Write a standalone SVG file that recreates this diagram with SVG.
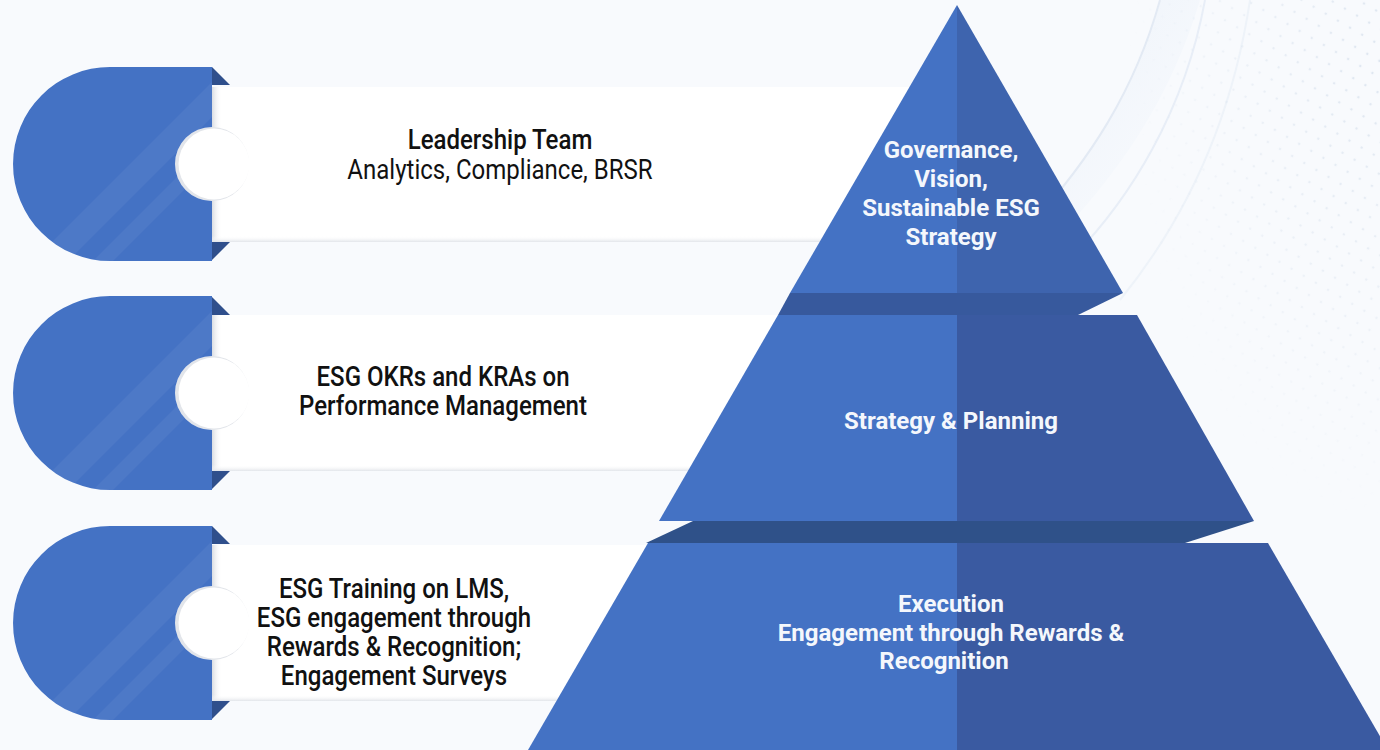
<svg xmlns="http://www.w3.org/2000/svg" width="1380" height="750" viewBox="0 0 1380 750">
  <defs>
    <style>
      .lbl { font-family: Roboto, "Liberation Sans", Arial, sans-serif; font-size: 27px; fill: #111111; text-anchor: middle; }
      .lbl-m { font-weight: 500; }
      .tier { font-family: Roboto, "Liberation Sans", Arial, sans-serif; font-size: 24px; font-weight: 700; fill: #F4F7FC; text-anchor: middle; }
      .cap { fill: #4472C4; }
      .fold { fill: #2F4F8C; }
      .card { fill: #FFFFFF; }
      .lit { fill: #4472C4; }
      .shade1 { fill: #3E64AE; }
      .shade2 { fill: #3A5AA1; }
      .band1 { fill: #37599D; }
      .band2 { fill: #2F5189; }
    </style>
    <linearGradient id="edgeShade" x1="0" y1="0" x2="1" y2="0">
      <stop offset="0" stop-color="#D9DCE2"/>
      <stop offset="1" stop-color="#FFFFFF" stop-opacity="0"/>
    </linearGradient>
    <linearGradient id="bottomShade" x1="0" y1="0" x2="0" y2="1">
      <stop offset="0" stop-color="#FFFFFF" stop-opacity="0"/>
      <stop offset="1" stop-color="#E2E5EA"/>
    </linearGradient>
    <linearGradient id="swoosh" x1="0" y1="0" x2="1" y2="1">
      <stop offset="0" stop-color="#E6EEF8"/>
      <stop offset="1" stop-color="#F3F7FC" stop-opacity="0"/>
    </linearGradient>
    <radialGradient id="dotFade" cx="1" cy="0.1" r="0.9">
      <stop offset="0" stop-color="#fff" stop-opacity="1"/>
      <stop offset="1" stop-color="#fff" stop-opacity="0"/>
    </radialGradient>
    <pattern id="dots" width="14" height="14" patternUnits="userSpaceOnUse" patternTransform="rotate(30)">
      <circle cx="7" cy="7" r="1.3" fill="#C9D6E6"/>
    </pattern>
    <mask id="dotMask">
      <rect x="1100" y="0" width="280" height="520" fill="url(#dotFade)"/>
    </mask>
    <!-- half-round cap with a notch on its right side, centred on y=0 -->
    <path id="capShape" d="M212 -97 H110 A97 97 0 0 0 110 97 H212 V37 A37 37 0 0 1 212 -37 Z"/>
    <clipPath id="capClip"><use href="#capShape"/></clipPath>
  </defs>

  <!-- page background -->
  <rect x="0" y="0" width="1380" height="750" fill="#F8FAFD"/>
  <g id="backdrop">
    <path d="M1160 0 C1135 90 1090 160 1030 225 L1060 235 C1120 170 1170 100 1200 0 Z" fill="url(#swoosh)" opacity="0.8"/>
    <path d="M1160 0 C1135 90 1090 160 1030 225" fill="none" stroke="#E3EAF4" stroke-width="2"/>
    <path d="M1205 0 C1185 110 1130 200 1070 260" fill="none" stroke="#E8EEF7" stroke-width="2"/>
    <path d="M1250 0 C1232 120 1185 220 1120 300" fill="none" stroke="#EEF3F9" stroke-width="2"/>
    <rect x="1100" y="0" width="280" height="520" fill="url(#dots)" mask="url(#dotMask)" opacity="0.55"/>
  </g>

  <!-- row 1 -->
  <g id="row-leadership" transform="translate(0,164)">
    <rect class="card" x="212" y="-77" width="720" height="155"/>
    <rect x="212" y="-77" width="10" height="155" fill="url(#edgeShade)"/>
    <rect x="212" y="72" width="720" height="6" fill="url(#bottomShade)"/>
    <circle cx="212" cy="0" r="37" fill="#E2E5EA"/>
    <circle cx="214" cy="0" r="35.5" fill="#FFFFFF"/>
    <use href="#capShape" class="cap"/>
    <g clip-path="url(#capClip)" fill="#FFFFFF" opacity="0.05">
      <polygon points="0,130 35,130 240,-75 240,-110"/>
      <polygon points="60,130 80,130 240,-30 240,-50"/>
    </g>
    <polygon class="fold" points="212,-97 230,-79 212,-79"/>
    <polygon class="fold" points="212,78 230,78 212,96"/>
    <g transform="translate(500,0) scale(0.89,1)">
      <text class="lbl lbl-m" x="0" y="-15">Leadership Team</text>
      <text class="lbl" x="0" y="14.5">Analytics, Compliance, BRSR</text>
    </g>
  </g>

  <!-- row 2 -->
  <g id="row-okrs" transform="translate(0,393)">
    <rect class="card" x="212" y="-78" width="720" height="156"/>
    <rect x="212" y="-78" width="10" height="156" fill="url(#edgeShade)"/>
    <rect x="212" y="72" width="720" height="6" fill="url(#bottomShade)"/>
    <circle cx="212" cy="0" r="37" fill="#E2E5EA"/>
    <circle cx="214" cy="0" r="35.5" fill="#FFFFFF"/>
    <use href="#capShape" class="cap"/>
    <g clip-path="url(#capClip)" fill="#FFFFFF" opacity="0.05">
      <polygon points="0,130 35,130 240,-75 240,-110"/>
      <polygon points="60,130 80,130 240,-30 240,-50"/>
    </g>
    <polygon class="fold" points="212,-96 230,-78 212,-78"/>
    <polygon class="fold" points="212,78 230,78 212,96"/>
    <g transform="translate(443,0) scale(0.89,1)">
      <text class="lbl lbl-m" x="0" y="-7">ESG OKRs and KRAs on</text>
      <text class="lbl lbl-m" x="0" y="22">Performance Management</text>
    </g>
  </g>

  <!-- row 3 -->
  <g id="row-training" transform="translate(0,623)">
    <rect class="card" x="212" y="-78" width="720" height="156"/>
    <rect x="212" y="-78" width="10" height="156" fill="url(#edgeShade)"/>
    <rect x="212" y="72" width="720" height="6" fill="url(#bottomShade)"/>
    <circle cx="212" cy="0" r="37" fill="#E2E5EA"/>
    <circle cx="214" cy="0" r="35.5" fill="#FFFFFF"/>
    <use href="#capShape" class="cap"/>
    <g clip-path="url(#capClip)" fill="#FFFFFF" opacity="0.05">
      <polygon points="0,130 35,130 240,-75 240,-110"/>
      <polygon points="60,130 80,130 240,-30 240,-50"/>
    </g>
    <polygon class="fold" points="212,-97 230,-79 212,-79"/>
    <polygon class="fold" points="212,78 230,78 212,96"/>
    <g transform="translate(394,0) scale(0.89,1)">
      <text class="lbl lbl-m" x="0" y="-25">ESG Training on LMS,</text>
      <text class="lbl lbl-m" x="0" y="4">ESG engagement through</text>
      <text class="lbl lbl-m" x="0" y="33">Rewards &amp; Recognition;</text>
      <text class="lbl lbl-m" x="0" y="62">Engagement Surveys</text>
    </g>
  </g>

  <!-- pyramid -->
  <g id="tier-governance">
    <polygon class="lit" points="957,5 790,293 957,293"/>
    <polygon class="shade1" points="957,5 957,293 1123,293"/>
    <polygon class="band1" points="790,293 1123,293 1078,315 778,315"/>
    <text class="tier" x="951" y="158">Governance,</text>
    <text class="tier" x="951" y="187">Vision,</text>
    <text class="tier" x="951" y="216">Sustainable ESG</text>
    <text class="tier" x="951" y="245">Strategy</text>
  </g>
  <g id="tier-strategy">
    <polygon class="lit" points="778,315 957,315 957,521 659,521"/>
    <polygon class="shade2" points="957,315 1137,315 1254,521 957,521"/>
    <polygon class="band2" points="693,521 1254,521 1185,543 646,543"/>
    <text class="tier" x="951" y="429">Strategy &amp; Planning</text>
  </g>
  <g id="tier-execution">
    <polygon class="lit" points="648,543 957,543 957,750 528,750"/>
    <polygon class="shade2" points="957,543 1268,543 1388,750 957,750"/>
    <text class="tier" x="951" y="612">Execution</text>
    <text class="tier" x="951" y="641">Engagement through Rewards &amp;</text>
    <text class="tier" x="944" y="669">Recognition</text>
  </g>
</svg>
